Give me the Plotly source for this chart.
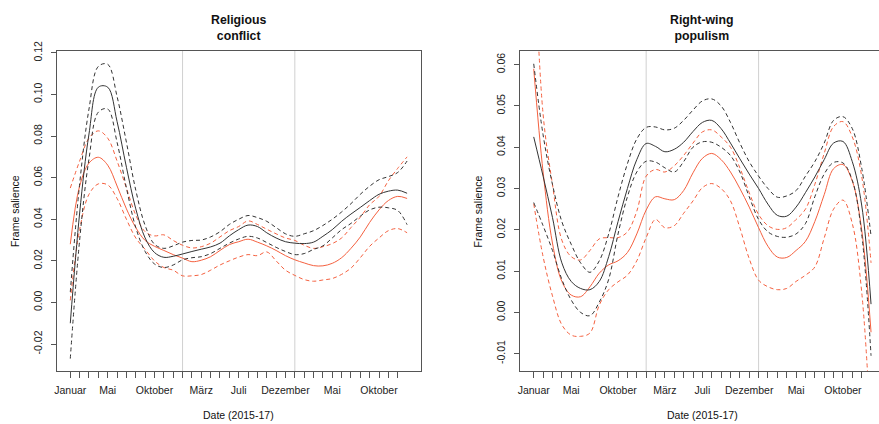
import plotly.graph_objects as go

# ---------------- data ----------------
months = list(range(37))          # month index, 0 = Januar 2015
tick_months = list(range(36))     # monthly tick marks
tick_labels = ["Januar", "", "", "", "Mai", "", "", "", "", "Oktober", "", "", "", "",
               "März", "", "", "", "Juli", "", "", "", "", "Dezember", "", "", "", "",
               "Mai", "", "", "", "", "Oktober", "", ""]
divider_months = [12, 24]

# Religious conflict
rel_black_mean = [-0.010, 0.043, 0.081, 0.1035, 0.1035, 0.087, 0.065, 0.045, 0.031, 0.024,
                  0.0217, 0.0222, 0.0233, 0.0245, 0.0256, 0.0267, 0.0285, 0.032, 0.035, 0.0372,
                  0.0365, 0.0335, 0.031, 0.0292, 0.0285, 0.0283, 0.029, 0.0318, 0.035, 0.039,
                  0.0425, 0.0457, 0.049, 0.052, 0.0535, 0.054, 0.0525]
rel_black_hi = [0.005, 0.057, 0.093, 0.1135, 0.1145, 0.099, 0.077, 0.054, 0.037, 0.028,
                0.026, 0.0272, 0.029, 0.0298, 0.030, 0.0315, 0.034, 0.0375, 0.040, 0.0418,
                0.0408, 0.039, 0.036, 0.033, 0.0318, 0.033, 0.0345, 0.037, 0.040, 0.0435,
                0.0475, 0.052, 0.0559, 0.059, 0.0605, 0.0625, 0.068]
rel_black_lo = [-0.027, 0.030, 0.069, 0.0915, 0.093, 0.077, 0.055, 0.036, 0.0245, 0.0185,
                0.0168, 0.018, 0.0205, 0.0215, 0.022, 0.0235, 0.026, 0.0285, 0.0305, 0.0318,
                0.031, 0.0288, 0.0265, 0.0245, 0.023, 0.0235, 0.0255, 0.0272, 0.031, 0.035,
                0.038, 0.0415, 0.0445, 0.0458, 0.0455, 0.0442, 0.0374]
rel_red_mean = [0.028, 0.056, 0.067, 0.0698, 0.066, 0.056, 0.045, 0.036, 0.0298, 0.027,
                0.025, 0.023, 0.0213, 0.0196, 0.0203, 0.022, 0.025, 0.0278, 0.0292, 0.0304,
                0.029, 0.0272, 0.025, 0.0225, 0.0205, 0.019, 0.0177, 0.0176, 0.0188, 0.0215,
                0.026, 0.0315, 0.0385, 0.0445, 0.049, 0.051, 0.050]
rel_red_hi = [0.055, 0.068, 0.079, 0.0825, 0.079, 0.068, 0.055, 0.042, 0.034, 0.032,
              0.0325, 0.0298, 0.0275, 0.0262, 0.0268, 0.0285, 0.0315, 0.0345, 0.0365, 0.0392,
              0.0375, 0.0352, 0.033, 0.031, 0.0298, 0.0275, 0.026, 0.0268, 0.0283, 0.031,
              0.036, 0.041, 0.047, 0.051, 0.0585, 0.0645, 0.070]
rel_red_lo = [0.001, 0.035, 0.052, 0.057, 0.0565, 0.050, 0.040, 0.031, 0.0255, 0.020,
              0.0168, 0.0155, 0.0128, 0.0128, 0.0134, 0.0155, 0.018, 0.020, 0.0218, 0.023,
              0.0225, 0.0243, 0.020, 0.0155, 0.013, 0.011, 0.0102, 0.0108, 0.0115, 0.0135,
              0.0165, 0.0215, 0.027, 0.031, 0.0345, 0.0355, 0.0335]

# Right-wing populism
pop_black_mean = [0.0425, 0.033, 0.023, 0.012, 0.0075, 0.0058, 0.0055, 0.0075, 0.0135, 0.022,
                  0.030, 0.037, 0.0409, 0.0402, 0.0389, 0.0395, 0.0412, 0.0438, 0.046, 0.0465,
                  0.0445, 0.041, 0.0372, 0.0335, 0.030, 0.0262, 0.0235, 0.0233, 0.0255, 0.029,
                  0.0328, 0.037, 0.041, 0.0414, 0.0365, 0.026, 0.002]
pop_black_hi = [0.0602, 0.043, 0.031, 0.022, 0.0165, 0.012, 0.0097, 0.0125, 0.019, 0.028,
                0.036, 0.042, 0.0448, 0.0449, 0.0442, 0.0446, 0.0465, 0.049, 0.0512, 0.0517,
                0.050, 0.046, 0.041, 0.0365, 0.033, 0.030, 0.0279, 0.0282, 0.0295, 0.033,
                0.0365, 0.041, 0.0465, 0.0474, 0.0445, 0.035, 0.0185]
pop_black_lo = [0.0266, 0.021, 0.015, 0.008, 0.003, 0.0000, -0.0008, 0.0025, 0.008, 0.019,
                0.028, 0.034, 0.0366, 0.0364, 0.035, 0.034, 0.0365, 0.040, 0.0413, 0.0412,
                0.040, 0.038, 0.034, 0.028, 0.0225, 0.0195, 0.0184, 0.0182, 0.019, 0.0215,
                0.028, 0.0335, 0.0363, 0.0362, 0.032, 0.019, -0.0105]
pop_red_mean = [0.059, 0.034, 0.0168, 0.0075, 0.0042, 0.0038, 0.0062, 0.0095, 0.0115, 0.0125,
                0.0145, 0.019, 0.0248, 0.028, 0.0275, 0.0273, 0.0295, 0.0338, 0.0373, 0.0385,
                0.037, 0.034, 0.030, 0.0255, 0.0205, 0.016, 0.0134, 0.0133, 0.015, 0.0172,
                0.022, 0.0285, 0.0348, 0.0358, 0.0318, 0.020, -0.0048]
pop_red_hi = [0.092, 0.048, 0.031, 0.0175, 0.0135, 0.0127, 0.015, 0.0178, 0.0181, 0.0181,
              0.0195, 0.0245, 0.033, 0.0346, 0.034, 0.0355, 0.038, 0.041, 0.0437, 0.0442,
              0.0425, 0.040, 0.035, 0.029, 0.0237, 0.021, 0.0201, 0.0205, 0.0225, 0.025,
              0.031, 0.0385, 0.045, 0.0462, 0.0425, 0.033, 0.012]
pop_red_lo = [0.0263, 0.0135, 0.004, -0.003, -0.0055, -0.0058, -0.005, 0.0018, 0.0055, 0.0074,
              0.009, 0.0125, 0.0181, 0.0225, 0.0205, 0.021, 0.024, 0.027, 0.0302, 0.0312,
              0.030, 0.027, 0.0205, 0.013, 0.0078, 0.0062, 0.0055, 0.0058, 0.0075, 0.009,
              0.011, 0.018, 0.025, 0.0272, 0.0215, 0.005, -0.030]

rel_yticks = [-0.02, 0.00, 0.02, 0.04, 0.06, 0.08, 0.10, 0.12]
pop_yticks = [-0.01, 0.00, 0.01, 0.02, 0.03, 0.04, 0.05, 0.06]

# ---------------- style ----------------
W, H = 879, 424
BLACK = "#333333"
RED = "#F4603F"
AXIS = "#555555"
GRID = "#d0d0d0"
FONT = "Liberation Sans, Arial, sans-serif"
DASH = "4px,3px"

fig = go.Figure()

def add_series(xa, ya, mean, hi, lo, color):
    for ys, dash in ((hi, DASH), (lo, DASH), (mean, "solid")):
        fig.add_trace(go.Scatter(
            x=months, y=ys, xaxis=xa, yaxis=ya, mode="lines",
            line=dict(color=color, width=1.0, dash=dash, shape="spline", smoothing=1.0),
            showlegend=False, hoverinfo="skip"))

add_series("x", "y", rel_red_mean, rel_red_hi, rel_red_lo, RED)
add_series("x", "y", rel_black_mean, rel_black_hi, rel_black_lo, BLACK)
add_series("x2", "y2", pop_red_mean, pop_red_hi, pop_red_lo, RED)
add_series("x2", "y2", pop_black_mean, pop_black_hi, pop_black_lo, BLACK)

def px_x(p):
    return p / W

def px_y(p):
    return 1 - p / H

ydom = [px_y(370), px_y(42)]

common_x = dict(
    tickmode="array", tickvals=tick_months, ticktext=tick_labels,
    ticks="outside", ticklen=6, tickwidth=1, tickcolor=AXIS,
    showline=True, linecolor=AXIS, linewidth=1, mirror=True,
    showgrid=False, zeroline=False, ticklabelstandoff=3,
    tickfont=dict(family=FONT, size=10.5, color="#222"), tickangle=0,
)
common_y = dict(
    ticks="outside", ticklen=5, tickwidth=1, tickcolor=AXIS,
    showline=True, linecolor=AXIS, linewidth=1, ticklabelstandoff=5,
    showgrid=False, zeroline=False, tickangle=-90,
    tickfont=dict(family=FONT, size=10.5, color="#222"), domain=ydom,
)

fig.update_layout(
    width=W, height=H, margin=dict(l=0, r=0, t=0, b=0),
    paper_bgcolor="white", plot_bgcolor="white",
    font=dict(family=FONT, color="#222"),
    xaxis=dict(common_x, domain=[px_x(54), px_x(419)], range=[-1.44, 37.44], anchor="y"),
    yaxis=dict(common_y, range=[-0.0331, 0.1209], anchor="x", mirror=True,
               tickvals=rel_yticks, ticktext=[f"{v:.2f}" for v in rel_yticks]),
    xaxis2=dict(common_x, domain=[px_x(519), 1.0], range=[-1.44, 36.85], anchor="y2"),
    yaxis2=dict(common_y, range=[-0.01426, 0.0633], anchor="x2", mirror=False,
                tickvals=pop_yticks, ticktext=[f"{v:.2f}" for v in pop_yticks]),
)

shapes = []
for xa in ("x", "x2"):
    for m in divider_months:
        shapes.append(dict(type="line", xref=xa, yref=("y domain" if xa == "x" else "y2 domain"),
                           x0=m, x1=m, y0=0, y1=1, line=dict(color=GRID, width=1), layer="below"))
fig.update_layout(shapes=shapes)

ann = []
def text(x, y, s, size=10.5, bold=False, angle=0):
    ann.append(dict(x=px_x(x), y=px_y(y), xref="paper", yref="paper", text=(f"<b>{s}</b>" if bold else s),
                    showarrow=False, textangle=angle, xanchor="center", yanchor="middle",
                    font=dict(family=FONT, size=size, color="#111")))

text(236.5, 18, "Religious<br>conflict", size=12.3, bold=True)
text(701.7, 18, "Right-wing<br>populism", size=12.3, bold=True)
text(236.5, 415, "Date (2015-17)")
text(701.7, 415, "Date (2015-17)")
text(12, 206, "Frame salience", angle=-90)
text(477, 206, "Frame salience", angle=-90)
fig.update_layout(annotations=ann)

fig.write_html("out.html")
